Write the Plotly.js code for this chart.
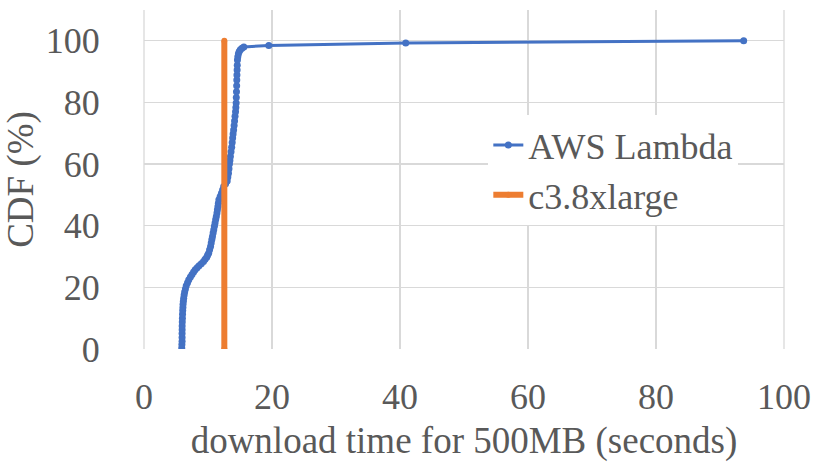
<!DOCTYPE html>
<html>
<head>
<meta charset="utf-8">
<script src="https://cdn.plot.ly/plotly-3.0.1.min.js"></script>
<style>html,body{margin:0;padding:0;background:#fff;}#chart{width:815px;height:466px;}</style>
</head>
<body>
<div id="chart"></div>
<script>
// AWS Lambda CDF: download time (s) vs CDF (%)
const lambdaTime = [5.9, 5.92, 5.95, 5.95, 5.95, 5.96, 5.96, 5.98, 6.0, 6.02, 6.05, 6.08, 6.1, 6.15, 6.2, 6.27, 6.35, 6.47, 6.6, 6.8, 7.0, 7.25, 7.5, 7.75, 8.0, 8.3, 8.6, 8.95, 9.3, 9.55, 9.8, 9.95, 10.1, 10.25, 10.4, 10.5, 10.6, 10.7, 10.8, 10.9, 11.0, 11.1, 11.2, 11.3, 11.4, 11.47, 11.55, 11.62, 11.7, 11.9, 12.1, 12.28, 12.45, 12.75, 13.0, 13.1, 13.2, 13.28, 13.35, 13.42, 13.5, 13.6, 13.7, 13.78, 13.85, 13.92, 14.0, 14.08, 14.15, 14.22, 14.3, 14.35, 14.4, 14.42, 14.45, 14.48, 14.5, 14.52, 14.55, 14.57, 14.6, 14.66, 14.75, 14.88, 15.05, 15.3, 15.6, 19.5, 40.9, 93.7];
const lambdaCdf  = [0.3, 1.5, 2.5, 3.75, 5, 6.25, 7.5, 8.75, 10, 11.25, 12.5, 13.5, 14.5, 15.5, 16.5, 17.5, 18.5, 19.5, 20.5, 21.5, 22.5, 23.4, 24.2, 25, 25.7, 26.4, 27, 27.7, 28.4, 29.1, 29.8, 30.5, 31.1, 32.2, 33.3, 34.4, 35.5, 36.5, 37.6, 38.7, 39.8, 40.9, 42, 43, 44.1, 45.2, 46.2, 47.3, 48.4, 49.5, 50.5, 51.6, 52.7, 53.6, 54.5, 55.8, 57, 58.5, 60, 61.2, 62.5, 64, 65.5, 67, 68.5, 69.8, 71.1, 72.5, 74, 75.5, 77, 78.4, 79.8, 81.6, 83.5, 85.4, 87.3, 88.9, 90.5, 92.1, 93.8, 94.8, 95.8, 96.5, 97.1, 97.6, 98.0, 98.5, 99.3, 100];
// c3.8xlarge
const c3Time = [12.55, 12.55];
const c3Cdf  = [0, 100];
const seriesNames = ['AWS Lambda', 'c3.8xlarge'];
const xTicks = [0, 20, 40, 60, 80, 100];
const yTicks = [0, 20, 40, 60, 80, 100];

const txt = '#595959';
const grid = '#d9d9d9';
const fam = '"Liberation Serif", "Times New Roman", serif';

const traces = [
  {x: lambdaTime, y: lambdaCdf, name: seriesNames[0], type: 'scatter', mode: 'lines+markers',
   line: {color: '#4472C4', width: 3}, marker: {color: '#4472C4', size: 7}},
  {x: c3Time, y: c3Cdf, name: seriesNames[1], type: 'scatter', mode: 'lines+markers',
   line: {color: '#ED7D31', width: 6}, marker: {color: '#ED7D31', size: 6}}
];

const layout = {
  width: 815, height: 466,
  margin: {l: 144, r: 31, t: 10, b: 117},
  paper_bgcolor: '#fff', plot_bgcolor: '#fff',
  font: {family: fam, color: txt, size: 36},
  showlegend: true,
  legend: {x: 0.538, y: 0.69, xanchor: 'left', yanchor: 'top', bgcolor: '#fff',
           font: {family: fam, size: 36, color: txt}, tracegroupgap: 0, itemwidth: 30},
  xaxis: {range: [0, 100], tickvals: xTicks, ticktext: xTicks.map(String), showgrid: true, gridcolor: grid, gridwidth: 1.3,
          zeroline: false, showline: false, ticks: 'outside', ticklen: 16, tickcolor: 'rgba(0,0,0,0)',
          tickfont: {family: fam, size: 36, color: txt},
          title: {text: 'download time for 500MB (seconds)', font: {family: fam, size: 37, color: txt}, standoff: 10}},
  yaxis: {range: [0, 110], tickvals: yTicks, ticktext: yTicks.map(String), showgrid: true, gridcolor: grid, gridwidth: 1.3,
          zeroline: false, showline: false, ticks: 'outside', ticklen: 36, tickcolor: 'rgba(0,0,0,0)',
          tickfont: {family: fam, size: 36, color: txt},
          title: {text: 'CDF (%)', font: {family: fam, size: 37, color: txt}, standoff: 8}},
  shapes: [
    {type: 'line', xref: 'paper', yref: 'paper', x0: 0, x1: 0, y0: 0, y1: 1, line: {color: grid, width: 1.3}, layer: 'below'},
    {type: 'line', xref: 'paper', yref: 'paper', x0: 1, x1: 1, y0: 0, y1: 1, line: {color: grid, width: 1.3}, layer: 'below'}
  ]
};

Plotly.newPlot('chart', traces, layout, {displayModeBar: false, staticPlot: true});
</script>
</body>
</html>
